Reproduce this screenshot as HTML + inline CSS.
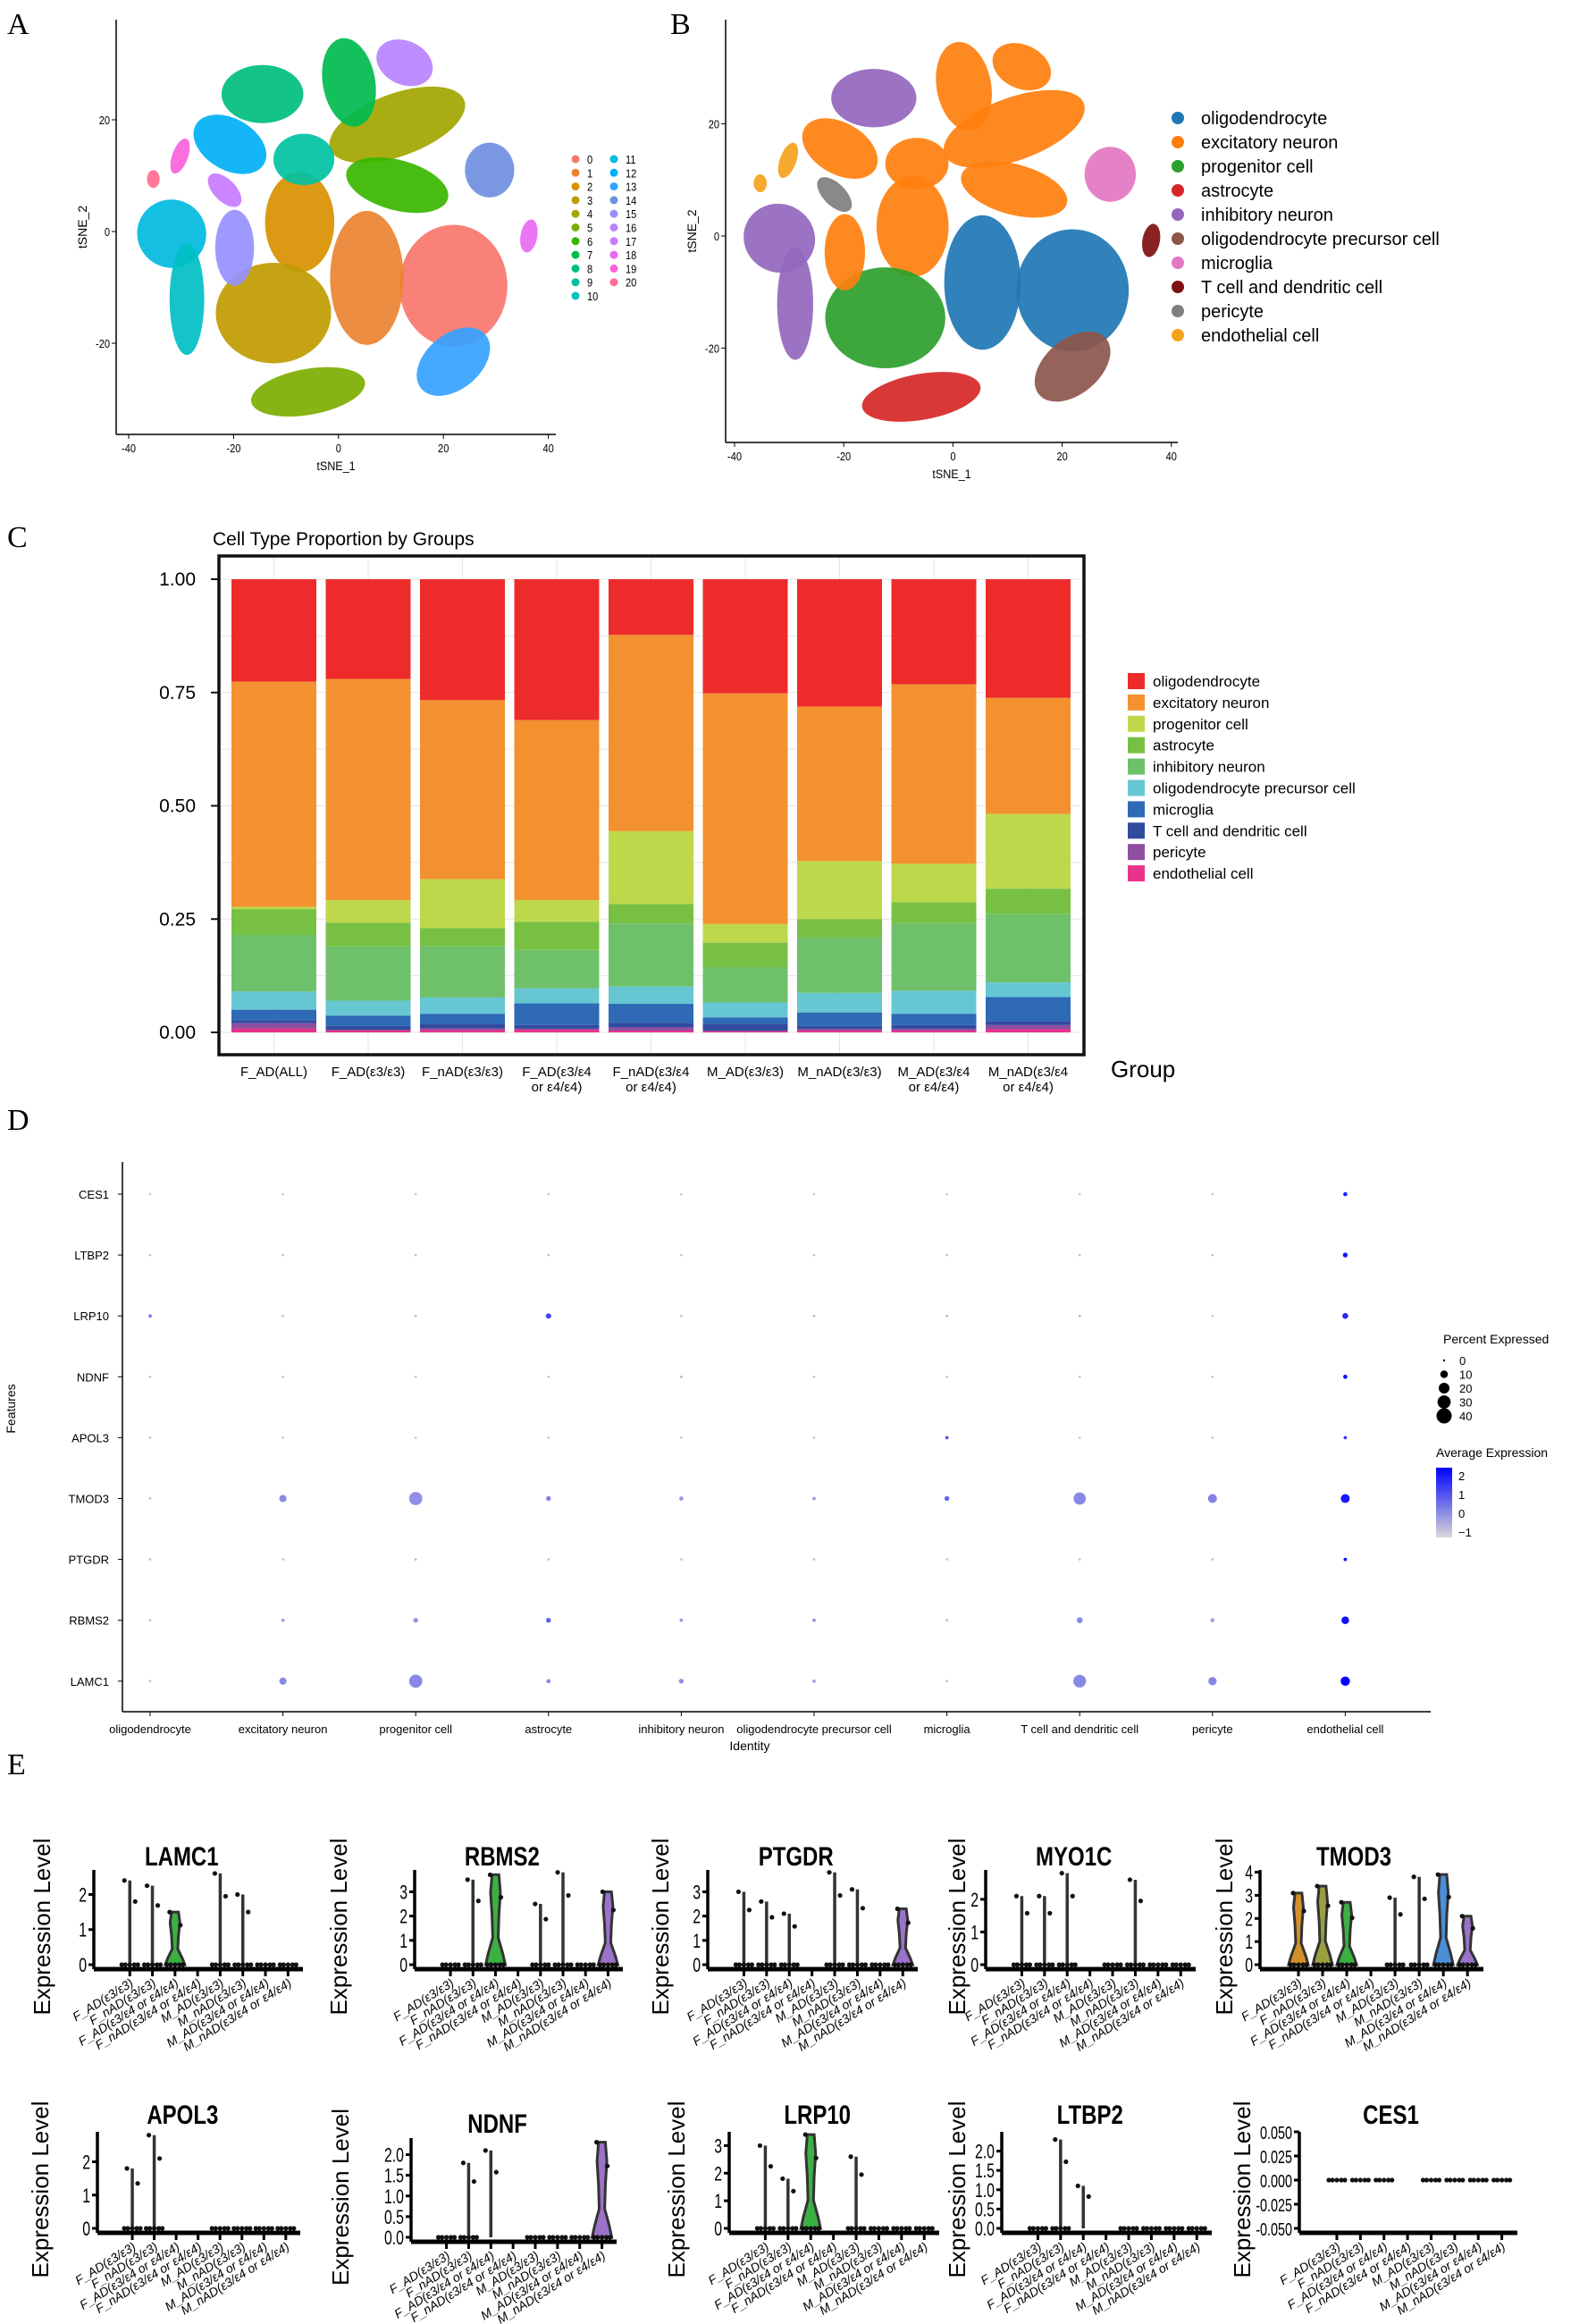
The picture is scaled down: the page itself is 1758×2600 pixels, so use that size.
<!DOCTYPE html>
<html><head><meta charset="utf-8">
<style>
html,body{margin:0;padding:0;background:#fff;}
svg{display:block;font-family:"Liberation Sans",sans-serif;}
.serif{font-family:"Liberation Serif",serif;}
</style></head>
<body>
<svg id="fig" width="1758" height="2600" viewBox="0 0 1758 2600" xmlns="http://www.w3.org/2000/svg">
<rect width="1758" height="2600" fill="#fff"/>
<text class="serif" x="8" y="38" font-size="34">A</text>
<text class="serif" x="750" y="38" font-size="34">B</text>
<text class="serif" x="8" y="612" font-size="34">C</text>
<text class="serif" x="8" y="1264" font-size="34">D</text>
<text class="serif" x="8" y="1985" font-size="34">E</text>
<g id="pa"></g>
<g id="pb"></g>
<g id="pc"></g>
<g id="pd"></g>
<g id="pe"></g>
</svg>
<script>
// ---------- tSNE blob data (tSNE units) ----------
const blobX  = [21.9, 5.4, -7.4, -12.4, -19.8, 11.2, 11.2, 2, -14.5, -6.6, -20.7, -31.8, -28.9, 21.9, -5.8, 28.8, 12.6, -21.7, -30.2, -35.3, 36.3];
const blobY  = [-9.7, -8.3, 1.7, -14.6, -2.9, 19.1, 8.3, 26.7, 24.6, 12.9, 15.6, -0.4, -12.1, -23.3, -28.7, 11, 30.2, 7.4, 13.5, 9.4, -0.8];
const blobRx = [10.3, 7, 6.6, 11, 3.7, 13.6, 10, 5, 7.8, 5.8, 7.5, 6.6, 3.3, 8, 11, 4.7, 5.6, 4, 1.5, 1.2, 1.6];
const blobRy = [10.9, 12, 9, 9, 6.8, 5.6, 4.5, 8, 5.2, 4.6, 4.6, 6.1, 10, 4.9, 4.1, 4.9, 3.9, 2, 3.3, 1.6, 3];
const blobRot= [0, 0, 0, 0, 0, -20, 15, -10, 0, 0, 30, 25, 0, -40, -10, 0, 25, 45, 20, 0, 10];
const blobCluster = [0, 1, 2, 3, 15, 4, 6, 7, 8, 9, 12, 11, 10, 13, 5, 14, 16, 17, 19, 20, 18];
const blobType = [0, 0, 1, 2, 1, 1, 1, 1, 4, 1, 1, 4, 4, 5, 3, 6, 1, 8, 9, 9, 7];
const clusterColors = ["#F8766D","#EA8331","#D89000","#C09B00","#A3A500","#7CAE00","#39B600","#00BB4E","#00BF7D","#00C1A3","#00BFC4","#00BAE0","#00B0F6","#35A2FF","#6F8FE0","#9590FF","#B983FF","#C77CFF","#E76BF3","#FA62DB","#FF6C91"];
const typeNames = ["oligodendrocyte","excitatory neuron","progenitor cell","astrocyte","inhibitory neuron","oligodendrocyte precursor cell","microglia","T cell and dendritic cell","pericyte","endothelial cell"];
const typeColorsB = ["#1F77B4","#FF7F0E","#2CA02C","#D62728","#9467BD","#8C564B","#E377C2","#7F1010","#7F7F7F","#F5A21B"];
const tsneTicks = [-40,-20,0,20,40];
const tsneYTicks = [20,0,-20];

// ---------- proportion chart data ----------
const groups = ["F_AD(ALL)","F_AD(ε3/ε3)","F_nAD(ε3/ε3)","F_AD(ε3/ε4|or ε4/ε4)","F_nAD(ε3/ε4|or ε4/ε4)","M_AD(ε3/ε3)","M_nAD(ε3/ε3)","M_AD(ε3/ε4|or ε4/ε4)","M_nAD(ε3/ε4|or ε4/ε4)"];
const pOligo = [.226,.220,.267,.311,.123,.252,.281,.232,.262];
const pExcit = [.497,.488,.395,.397,.433,.509,.341,.396,.256];
const pProg  = [.005,.050,.108,.048,.161,.041,.128,.085,.165];
const pAstro = [.057,.052,.040,.062,.043,.054,.041,.046,.056];
const pInhib = [.125,.120,.113,.085,.139,.078,.122,.149,.151];
const pOPC   = [.040,.033,.036,.033,.038,.033,.043,.051,.032];
const pMicro = [.023,.023,.022,.048,.042,.014,.030,.025,.053];
const pTcell = [.007,.008,.010,.008,.010,.015,.006,.008,.009];
const pPeri  = [.012,.002,.004,.002,.007,.002,.004,.004,.009];
const pEndo  = [.008,.004,.005,.006,.004,.002,.004,.004,.007];
const propTicks = ["0.00","0.25","0.50","0.75","1.00"];
const typeColorsC = ["#EE2B2B","#F39131","#BED84B","#77C043","#6EC06B","#66C7D3","#2E6AB5","#324B9E","#8E4FA0","#E7338C"];

// ---------- dot plot data ----------
const dpGenes = ["CES1","LTBP2","LRP10","NDNF","APOL3","TMOD3","PTGDR","RBMS2","LAMC1"];
const dpPct = [
 [0,0,0,0,0,0,0,0,0,3],
 [0,0,0,0,0,0,0,0,0,4],
 [2,0,1,5,0,1,1,1,0,6],
 [0,0,0,0,1,0,0,0,0,3],
 [0,0,0,0,0,0,2,0,0,2],
 [1,9,30,4,3,2,4,26,14,14],
 [0,0,1,0,0,0,0,0,0,2],
 [1,2,4,4,2,2,1,6,3,10],
 [1,9,30,3,4,2,1,28,12,15]];
const dpAvg = [
 [-0.6,-0.6,-0.6,-0.6,-0.6,-0.6,-0.6,-0.6,-0.6,2],
 [-0.6,-0.6,-0.6,-0.6,-0.6,-0.6,-0.6,-0.6,-0.6,2.2],
 [0.5,-0.5,-0.5,1.4,-0.5,-0.3,-0.3,-0.3,-0.6,1.8],
 [-0.6,-0.6,-0.6,-0.6,-0.2,-0.6,-0.6,-0.6,-0.6,2.3],
 [-0.6,-0.6,-0.6,-0.6,-0.6,-0.6,1.2,-0.6,-0.6,1.6],
 [-0.5,0.3,0.2,0.4,0.1,0,0.9,0.3,0.4,2.1],
 [-0.6,-0.6,-0.4,-0.6,-0.6,-0.6,-0.6,-0.6,-0.6,2.2],
 [-0.5,-0.1,0.1,1,0,0.1,-0.3,0.3,-0.1,2.3],
 [-0.5,0.3,0.3,0.3,0.2,-0.1,-0.4,0.3,0.3,2.5]];
const pctLegend = [0,10,20,30,40];
const avgLegend = [2,1,0,-1];

// ---------- violin data ----------
const vGenes = ["LAMC1","RBMS2","PTGDR","MYO1C","TMOD3","APOL3","NDNF","LRP10","LTBP2","CES1"];
const vGroups = ["F_AD(ε3/ε3)","F_nAD(ε3/ε3)","F_AD(ε3/ε4 or ε4/ε4)","F_nAD(ε3/ε4 or ε4/ε4)","M_AD(ε3/ε3)","M_nAD(ε3/ε3)","M_AD(ε3/ε4 or ε4/ε4)","M_nAD(ε3/ε4 or ε4/ε4)"];
const vMax = [
 [2.4,2.25,1.5,0,2.6,2.0,0,0],
 [0,3.5,3.7,0,2.5,3.8,0,3.0],
 [3.0,2.6,2.1,0,3.8,3.1,0,2.3],
 [2.1,2.1,2.8,0,0,2.6,0,0],
 [3.1,3.4,2.7,0,2.9,3.8,3.9,2.1],
 [1.8,2.8,0,0,0,0,0,0],
 [0,1.8,2.1,0,0,0,0,2.3],
 [3.0,1.8,3.4,0,2.6,0,0,0],
 [0,2.3,1.1,0,0,0,0,0],
 [0,0,0,0,0,0,0,0]];
const vViolin = [
 [0,0,1,0,0,0,0,0],[0,0,1,0,0,0,0,1],[0,0,0,0,0,0,0,1],[0,0,0,0,0,0,0,0],[1,1,1,0,0,0,1,1],
 [0,0,0,0,0,0,0,0],[0,0,0,0,0,0,0,1],[0,0,1,0,0,0,0,0],[0,0,0,0,0,0,0,0],[0,0,0,0,0,0,0,0]];
const vHasZero = [
 [1,1,1,0,1,1,1,1],[1,1,1,0,1,1,1,1],[1,1,1,0,1,1,1,1],[1,1,1,0,1,1,1,1],[1,1,1,0,1,1,1,1],
 [1,1,0,0,1,1,1,1],[1,1,0,0,1,1,1,1],[1,1,1,0,1,1,1,1],[1,1,0,0,1,1,1,1],[1,1,1,0,1,1,1,1]];
const vColors = ["#D4902A","#9AA040","#3CB043","#3CB043","#00BFC4","#4A8FD8","#4A8FD8","#9B72C9"];
const vYMax = [2.7,3.9,3.9,2.9,4.1,2.9,2.4,3.5,2.5,0.05];
const vYMin = [0,0,0,0,0,0,0,0,0,-0.05];
const vTicks = [[0,1,2],[0,1,2,3],[0,1,2,3],[0,1,2],[0,1,2,3,4],[0,1,2],[0,0.5,1,1.5,2],[0,1,2,3],[0,0.5,1,1.5,2],[-0.05,-0.025,0,0.025,0.05]];
const vTickFmt = [0,0,0,0,0,0,1,0,1,3];

const NS="http://www.w3.org/2000/svg";
function mk(tag, attrs, parent, txt){const e=document.createElementNS(NS,tag);for(const k in attrs)e.setAttribute(k,attrs[k]);if(txt!==undefined)e.textContent=txt;parent.appendChild(e);return e;}

// ---------- Panel A & B ----------
function tsnePanel(g, ax, colorFn, isB){
  const xS=v=>ax.x0+(v-ax.xmin)*ax.kx, yS=v=>ax.y0-(v-0)*ax.ky;
  for(let i=0;i<blobX.length;i++){
    const cx=xS(blobX[i]), cy=yS(blobY[i]);
    const e=mk('ellipse',{cx:cx,cy:cy,rx:blobRx[i]*ax.kx,ry:blobRy[i]*ax.ky,fill:colorFn(i),transform:`rotate(${blobRot[i]} ${cx} ${cy})`,opacity:0.92},g);
    
    
  }
  mk('line',{x1:ax.axX,y1:ax.top,x2:ax.axX,y2:ax.axY,stroke:'#000','stroke-width':1.5},g);
  mk('line',{x1:ax.axX,y1:ax.axY,x2:ax.right,y2:ax.axY,stroke:'#000','stroke-width':1.5},g);
  tsneTicks.forEach(t=>{const x=xS(t);mk('line',{x1:x,y1:ax.axY,x2:x,y2:ax.axY+5,stroke:'#000'},g);
    const tl=mk('text',{'font-size':13,'text-anchor':'middle',transform:`translate(${x},${ax.axY+20}) scale(0.85,1)`},g,String(t));
    });
  tsneYTicks.forEach(t=>{const y=yS(t);mk('line',{x1:ax.axX-5,y1:y,x2:ax.axX,y2:y,stroke:'#000'},g);
    const tl=mk('text',{'font-size':13,'text-anchor':'end',transform:`translate(${ax.axX-7},${y+5}) scale(0.85,1)`},g,String(t));
    });
  const xt=mk('text',{'font-size':14,'text-anchor':'middle',transform:`translate(${(ax.axX+ax.right)/2},${ax.axY+40}) scale(0.9,1)`},g,'tSNE_1');
  
  const yt=mk('text',{x:0,y:0,'font-size':14,'text-anchor':'middle',transform:`translate(${ax.axX-33},${(ax.top+ax.axY)/2}) rotate(-90)`},g,'tSNE_2');
  
}
tsnePanel(document.getElementById('pa'),{x0:144,xmin:-40,kx:5.87,y0:259,ky:6.25,axX:130,axY:486,top:22,right:622},i=>clusterColors[blobCluster[i]],false);
(function(){const g=document.getElementById('pa');
 for(let c=0;c<21;c++){const col=c<11?0:1,row=c<11?c:c-11;const x=col?687:644,y=178+row*15.3;
  const e=mk('g',{},g);
  mk('circle',{cx:x,cy:y,r:4.5,fill:clusterColors[c]},e);
  mk('text',{'font-size':13,transform:`translate(${x+13},${y+5}) scale(0.85,1)`},e,String(c));}})();

tsnePanel(document.getElementById('pb'),{x0:822,xmin:-40,kx:6.11,y0:264,ky:6.27,axX:812,axY:495,top:22,right:1318},i=>typeColorsB[blobType[i]],true);
(function(){const g=document.getElementById('pb');
 typeNames.forEach((n,i)=>{const y=132+i*27;const e=mk('g',{},g);
  
  mk('circle',{cx:1318,cy:y,r:7,fill:typeColorsB[i]},e);
  mk('text',{x:1344,y:y+7,'font-size':20},e,n);});})();

// ---------- Panel C ----------
(function(){const g=document.getElementById('pc');
 const series=[pOligo,pExcit,pProg,pAstro,pInhib,pOPC,pMicro,pTcell,pPeri,pEndo];
 const yS=v=>1155-v*507, xS=i=>259+i*105.5, bw=95;
 const tt=mk('text',{x:238,y:610,'font-size':21},g,'Cell Type Proportion by Groups');
 
 for(let k=0;k<=8;k++){mk('line',{x1:247,x2:1211,y1:yS(k/8),y2:yS(k/8),stroke:'#e4e4e4','stroke-width':1},g);}
 groups.forEach((gname,i)=>{mk('line',{x1:xS(i)+bw/2,x2:xS(i)+bw/2,y1:624,y2:1178,stroke:'#e4e4e4'},g);});
 groups.forEach((gname,i)=>{
  let cum=1;
  series.forEach((s,k)=>{const top=cum,bot=cum-s[i];cum=bot;
   const r=mk('rect',{x:xS(i),y:yS(top),width:bw,height:Math.max(0,yS(bot)-yS(top)),fill:typeColorsC[k]},g);
   });
  const parts=gname.split('|');
  parts.forEach((p,j)=>{const t=mk('text',{x:xS(i)+bw/2,y:1204+j*17,'font-size':15,'text-anchor':'middle'},g,p);
   });
 });
 mk('rect',{x:245,y:622,width:968,height:558,fill:'none',stroke:'#111','stroke-width':3.5},g);
 propTicks.forEach((t,k)=>{const y=yS(parseFloat(t));mk('line',{x1:236,x2:245,y1:y,y2:y,stroke:'#111','stroke-width':2},g);
  const tl=mk('text',{x:219,y:y+7,'font-size':21,'text-anchor':'end'},g,t);
  });
 const gt=mk('text',{x:1243,y:1205,'font-size':26},g,'Group');
 
 typeNames.forEach((n,i)=>{const y=762+i*23.9;const e=mk('g',{},g);
  
  mk('rect',{x:1262,y:y-9,width:19,height:18,fill:typeColorsC[i]},e);
  mk('text',{x:1290,y:y+6,'font-size':17},e,n);});
})();

// ---------- Panel D ----------
(function(){const g=document.getElementById('pd');
 const xS=j=>168+j*148.6, yS=i=>1336+i*68.1;
 const col=v=>{let t=Math.max(0,Math.min(1,(v+1)/3.5));const a=[217,217,217],b=[0,0,255];
  return `rgb(${Math.round(a[0]+(b[0]-a[0])*t)},${Math.round(a[1]+(b[1]-a[1])*t)},${Math.round(a[2]+(b[2]-a[2])*t)})`;};
 const rS=p=>Math.max(1.3,8.5*Math.sqrt(p/40));
 dpGenes.forEach((gn,i)=>{
  const tl=mk('text',{x:122,y:yS(i)+5,'font-size':13,'text-anchor':'end'},g,gn);
  
  mk('line',{x1:132,x2:137,y1:yS(i),y2:yS(i),stroke:'#000'},g);
  typeNames.forEach((tn,j)=>{const c=mk('circle',{cx:xS(j),cy:yS(i),r:rS(dpPct[i][j]),fill:col(dpAvg[i][j])},g);
   });
 });
 typeNames.forEach((tn,j)=>{mk('line',{x1:xS(j),x2:xS(j),y1:1915,y2:1920,stroke:'#000'},g);
  const t=mk('text',{x:xS(j),y:1939,'font-size':13,'text-anchor':'middle'},g,tn);
  });
 mk('line',{x1:137,x2:137,y1:1300,y2:1915,stroke:'#000','stroke-width':1.5},g);
 mk('line',{x1:137,x2:1601,y1:1915,y2:1915,stroke:'#000','stroke-width':1.5},g);
 let t=mk('text',{x:839,y:1958,'font-size':14,'text-anchor':'middle'},g,'Identity');
 
 t=mk('text',{x:0,y:0,'font-size':14,'text-anchor':'middle',transform:'translate(17,1576) rotate(-90)'},g,'Features');
 
 t=mk('text',{x:1615,y:1503,'font-size':14},g,'Percent Expressed');
 
 pctLegend.forEach((p,k)=>{const y=1522+k*15.5;const e=mk('g',{},g);
  
  mk('circle',{cx:1616,cy:y,r:p===0?1.2:rS(p),fill:'#000'},e);
  mk('text',{x:1633,y:y+5,'font-size':13},e,String(p));});
 t=mk('text',{x:1607,y:1630,'font-size':14},g,'Average Expression');
 
 const defs=mk('defs',{},g);const lg=mk('linearGradient',{id:'cb',x1:0,y1:1,x2:0,y2:0},defs);
 mk('stop',{offset:0,'stop-color':col(-1.1)},lg);mk('stop',{offset:1,'stop-color':col(2.5)},lg);
 const cb=mk('rect',{x:1607,y:1642,width:18,height:78,fill:'url(#cb)'},g);
 
 avgLegend.forEach((v,k)=>{const y=1651+k*21;const tx=mk('text',{x:1632,y:y+5,'font-size':13},g,v<0?'\u2212'+Math.abs(v):String(v));
  });
})();

// ---------- Panel E ----------
(function(){const g=document.getElementById('pe');
 const axX=[105,464,792,1103,1410,109,460,816,1121,1454];
 const axW=[234,233,235,235,250,227,230,235,235,244];
 const axLine=[2203,2203,2203,2203,2203,2498,2508,2498,2498,2498];
 const topY=[2092,2092,2092,2092,2092,2385,2392,2385,2385,2385];
 const titleY=[2087,2087,2087,2087,2087,2376,2386,2376,2376,2376];
 const labX=[47,379,739,1071,1370,45,381,757,1071,1390];
 vGenes.forEach((gn,p)=>{
  const pg=mk('g',{},g);
  const yZero=axLine[p]-5, ymin=vYMin[p], ymax=vYMax[p];
  const yS=v=>yZero-(v-ymin)/(ymax-ymin)*(yZero-topY[p]);
  const xS=k=>axX[p]+axW[p]*(0.172+k*0.1081);
  const zeroY=yS(0);
  vGroups.forEach((gr,k)=>{
   const m=vMax[p][k];
   if(vViolin[p][k]&&m>0){
    const fr=[[0,1],[0.12,0.75],[0.3,0.28],[0.55,0.35],[0.8,0.5],[1,0.35]];const hw=11;
    let pts=fr.map(f=>[xS(k)+hw*f[1],yS(m*f[0])]);pts=pts.concat(fr.slice().reverse().map(f=>[xS(k)-hw*f[1],yS(m*f[0])]));
    const v=mk('polygon',{points:pts.map(q=>q.join(',')).join(' '),fill:vColors[k],stroke:'#333','stroke-width':3},pg);
    
   } else if(m>0){
    const l=mk('line',{x1:xS(k),x2:xS(k),y1:zeroY,y2:yS(m),stroke:'#333','stroke-width':3.5},pg);
    
   }
   if(vHasZero[p][k]){[-9,-5,0,5,9].forEach(o=>{mk('circle',{cx:xS(k)+o,cy:zeroY,r:2.6,fill:'#111'},pg);});}
   if(m>0){mk('circle',{cx:xS(k)-6,cy:yS(m),r:2.6,fill:'#111'},pg);mk('circle',{cx:xS(k)+6,cy:yS(m*0.75),r:2.6,fill:'#111'},pg);}
   mk('line',{x1:xS(k),x2:xS(k),y1:axLine[p],y2:axLine[p]+8,stroke:'#000','stroke-width':3},pg);
   const tl=mk('text',{x:0,y:0,'font-size':14,'font-style':'italic','text-anchor':'end',transform:`translate(${xS(k)+5},${axLine[p]+18}) rotate(-32)`},pg,gr);
   
  });
  mk('line',{x1:axX[p],x2:axX[p],y1:topY[p],y2:axLine[p],stroke:'#000','stroke-width':3.5},pg);
  mk('line',{x1:axX[p],x2:axX[p]+axW[p],y1:axLine[p],y2:axLine[p],stroke:'#000','stroke-width':5},pg);
  vTicks[p].forEach(t=>{const y=yS(t);mk('line',{x1:axX[p]-6,x2:axX[p],y1:y,y2:y,stroke:'#000','stroke-width':3},pg);
   const tl=mk('text',{'font-size':p===9?20:22,'text-anchor':'end',transform:`translate(${axX[p]-8},${y+8}) scale(0.72,1)`},pg,t.toFixed(vTickFmt[p]));
   });
  const tt=mk('text',{'font-size':30,'font-weight':'bold','text-anchor':'middle',transform:`translate(${axX[p]+axW[p]*0.42},${titleY[p]}) scale(0.8,1)`},pg,gn);
  
  const yl=mk('text',{x:0,y:0,'font-size':26,'text-anchor':'middle',transform:`translate(${labX[p]+9},${(topY[p]+axLine[p])/2+8}) rotate(-90)`},pg,'Expression Level');
  
 });
})();
</script>
</body></html>
